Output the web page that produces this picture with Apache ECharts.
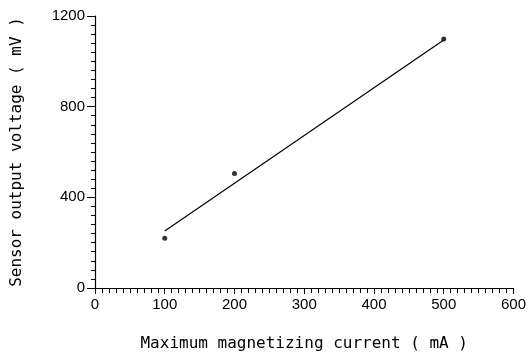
<!DOCTYPE html>
<html>
<head>
<meta charset="utf-8">
<script src="https://cdn.jsdelivr.net/npm/echarts@6/dist/echarts.min.js"></script>
<style>
  html, body { margin: 0; padding: 0; background: #fff; }
  #chart { width: 529px; height: 359px; }
</style>
</head>
<body>
<div id="chart"></div>
<script>
// measured points (current mA, voltage mV)
var currentMA = [100, 200, 500];
var voltageMV = [220, 505, 1098];
// fitted straight line end points
var fitX = [100, 500];
var fitY = [252, 1094];
var xTicks = [0, 100, 200, 300, 400, 500, 600];
var yTicks = [0, 400, 800, 1200];

var pts = currentMA.map(function (x, i) { return [x, voltageMV[i]]; });
var fit = fitX.map(function (x, i) { return [x, fitY[i]]; });

var titleFont = {
    fontFamily: 'DejaVu Sans Mono',
    fontSize: 16,
    color: '#000'
};

var myChart = echarts.init(document.getElementById('chart'));
var option = {
    animation: false,
    grid: { left: 95, right: 14, top: 16, bottom: 71 },
    xAxis: {
        type: 'value',
        min: 0, max: 600, interval: 100,
        name: 'Maximum magnetizing current ( mA )',
        nameLocation: 'middle',
        nameGap: 48,
        nameTextStyle: titleFont,
        axisLine: { lineStyle: { color: '#000', width: 1.2 } },
        axisTick: { length: 6, lineStyle: { color: '#000' } },
        minorTick: { show: true, splitNumber: 10, length: 5, lineStyle: { color: '#000' } },
        axisLabel: {
            color: '#000', fontFamily: 'Liberation Sans', fontSize: 15, margin: 9,
            formatter: function (v) { return xTicks.indexOf(v) >= 0 ? String(v) : ''; }
        },
        splitLine: { show: false }
    },
    yAxis: {
        type: 'value',
        min: 0, max: 1200, interval: 400,
        name: 'Sensor output voltage ( mV )',
        nameLocation: 'middle',
        nameGap: 70,
        nameTextStyle: titleFont,
        axisLine: { show: true, lineStyle: { color: '#000', width: 1.2 } },
        axisTick: { show: true, length: 8, lineStyle: { color: '#000' } },
        minorTick: { show: true, splitNumber: 10, length: 4, lineStyle: { color: '#000' } },
        axisLabel: {
            color: '#000', fontFamily: 'Liberation Sans', fontSize: 15, margin: 10,
            formatter: function (v) { return yTicks.indexOf(v) >= 0 ? String(v) : ''; }
        },
        splitLine: { show: false }
    },
    series: [
        {
            type: 'line',
            data: fit,
            symbol: 'none',
            lineStyle: { color: '#000', width: 1.2 }
        },
        {
            type: 'scatter',
            data: pts,
            symbolSize: 5,
            itemStyle: { color: '#000' }
        }
    ]
};
myChart.setOption(option);
</script>
</body>
</html>
